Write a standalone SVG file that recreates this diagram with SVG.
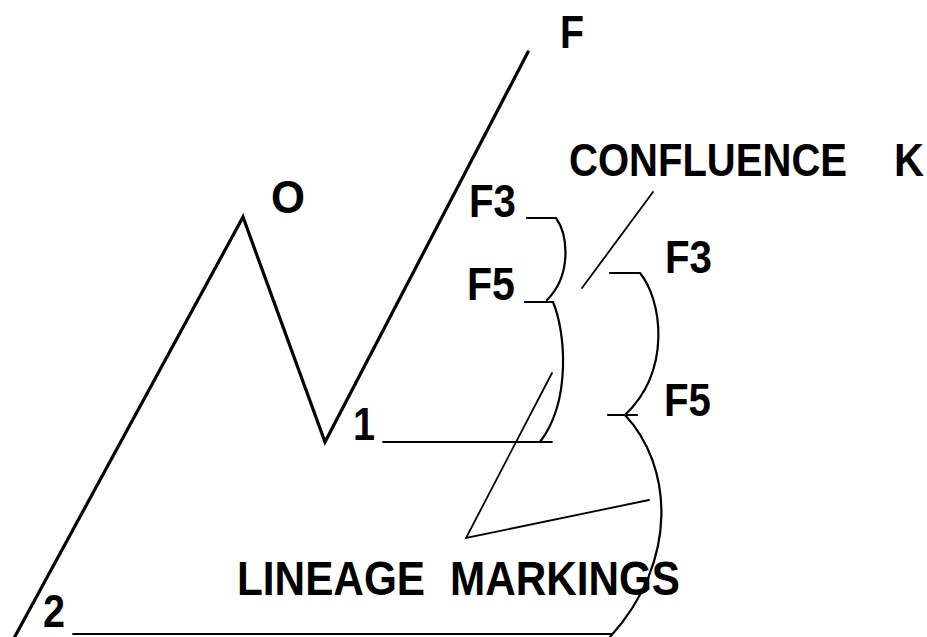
<svg xmlns="http://www.w3.org/2000/svg" width="927" height="637" viewBox="0 0 927 637">
<style>
.t{font-family:"Liberation Sans",Arial,sans-serif;font-weight:bold;font-size:46px;fill:#000}
.big{font-size:49px}
.main{fill:none;stroke:#000;stroke-width:3.2;stroke-linejoin:miter;stroke-linecap:round}
.thin{fill:none;stroke:#000;stroke-width:1.8;stroke-linecap:round}
.brace{fill:none;stroke:#000;stroke-width:2.2;stroke-linecap:round}
</style>
<rect width="927" height="637" fill="#fff"/>
<g id="wave">
<polyline class="main" points="13,640 243,217 325,442 528,52"/>
</g>
<g id="connectors">
<line class="thin" x1="383" y1="442" x2="552" y2="442"/>
<line class="thin" x1="73" y1="634" x2="612" y2="634"/>
<line class="thin" x1="653" y1="192" x2="582" y2="288"/>
<polyline class="thin" points="552,373 466,538 649,500"/>
</g>
<g id="brace-left">
<path class="brace" d="M527,218 H556 C568,235 572,275 547,300"/>
<path class="brace" d="M525,302 H553 C565,330 572,400 540,442"/>
</g>
<g id="brace-right">
<path class="brace" d="M610,273 H640 C662,300 672,370 625,415"/>
<path class="brace" d="M608,415 H637 M625,415 C672,465 680,560 610,637"/>
</g>
<g id="labels">
<text class="t" x="560" y="48" textLength="24" lengthAdjust="spacingAndGlyphs">F</text>
<text class="t" x="271" y="213" textLength="34" lengthAdjust="spacingAndGlyphs">O</text>
<text class="t" x="353" y="440" textLength="22" lengthAdjust="spacingAndGlyphs">1</text>
<text class="t" x="43" y="627" font-size="44" textLength="22" lengthAdjust="spacingAndGlyphs">2</text>
<text class="t" x="469" y="217" textLength="47" lengthAdjust="spacingAndGlyphs">F3</text>
<text class="t" x="467" y="300" textLength="48" lengthAdjust="spacingAndGlyphs">F5</text>
<text class="t" x="665" y="273" textLength="47" lengthAdjust="spacingAndGlyphs">F3</text>
<text class="t" x="664" y="416" textLength="47" lengthAdjust="spacingAndGlyphs">F5</text>
<text class="t" y="176"><tspan x="569" textLength="278" lengthAdjust="spacingAndGlyphs">CONFLUENCE</tspan> <tspan x="894" textLength="30" lengthAdjust="spacingAndGlyphs">K</tspan></text>
<text class="t big" y="595"><tspan x="237" textLength="188" lengthAdjust="spacingAndGlyphs">LINEAGE</tspan> <tspan x="450" textLength="230" lengthAdjust="spacingAndGlyphs">MARKINGS</tspan></text>
</g>
</svg>
